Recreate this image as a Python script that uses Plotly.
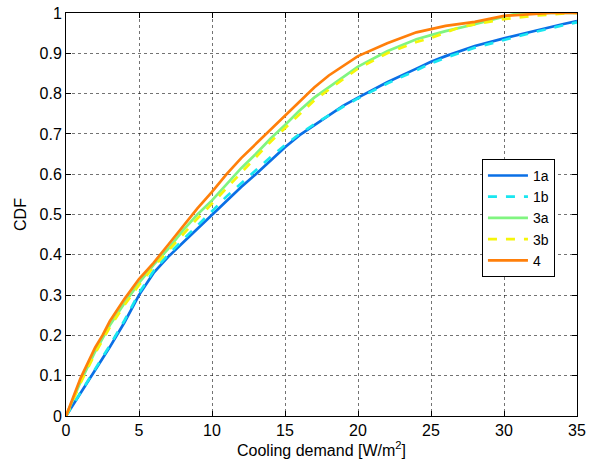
import plotly.graph_objects as go

# Cooling demand [W/m2] grid points and CDF values per case
x_1a = [0, 1, 2, 3, 4, 5, 6, 7, 8, 9, 10, 11, 12, 13, 14, 15, 16, 17, 18, 19, 20, 22, 24, 25, 26, 28, 30, 32, 34, 35]
y_1a = [0, 0.056, 0.113, 0.171, 0.232, 0.30, 0.355, 0.395, 0.43, 0.465, 0.5, 0.535, 0.568, 0.6, 0.634, 0.667, 0.697, 0.722, 0.747, 0.77, 0.79, 0.828, 0.862, 0.879, 0.893, 0.918, 0.937, 0.955, 0.972, 0.98]

x_1b = [0, 1, 2, 3, 4, 5, 6, 7, 8, 9, 10, 11, 12, 13, 14, 15, 16, 17, 18, 19, 20, 22, 24, 25, 26, 28, 30, 32, 34, 35]
y_1b = [0, 0.058, 0.116, 0.175, 0.237, 0.305, 0.36, 0.40, 0.437, 0.472, 0.508, 0.545, 0.578, 0.61, 0.642, 0.672, 0.7, 0.724, 0.747, 0.768, 0.788, 0.825, 0.858, 0.875, 0.889, 0.914, 0.933, 0.952, 0.969, 0.977]

x_3a = [0, 1, 2, 3, 4, 5, 6, 7, 8, 9, 10, 11, 12, 13, 14, 15, 16, 17, 18, 19, 20, 22, 24, 25, 26, 28, 30, 31, 35]
y_3a = [0, 0.085, 0.16, 0.225, 0.28, 0.33, 0.375, 0.415, 0.46, 0.5, 0.535, 0.575, 0.615, 0.65, 0.688, 0.722, 0.758, 0.79, 0.815, 0.842, 0.867, 0.905, 0.935, 0.945, 0.955, 0.972, 0.99, 1.0, 1.0]

x_3b = [0, 1, 2, 3, 4, 5, 6, 7, 8, 9, 10, 11, 12, 13, 14, 15, 16, 17, 18, 19, 20, 22, 24, 25, 27, 30, 32, 34.5, 35]
y_3b = [0, 0.082, 0.156, 0.22, 0.275, 0.325, 0.37, 0.41, 0.452, 0.49, 0.527, 0.566, 0.605, 0.642, 0.68, 0.715, 0.75, 0.783, 0.81, 0.837, 0.862, 0.9, 0.928, 0.938, 0.965, 0.985, 0.993, 1.0, 1.0]

x_4 = [0, 1, 2, 2.5, 3, 4, 5, 6, 7, 8, 9, 10, 11, 12, 13, 14, 15, 16, 17, 18, 19, 20, 22, 24, 26, 28, 30, 32, 33.2, 35]
y_4 = [0, 0.094, 0.17, 0.2, 0.235, 0.29, 0.34, 0.38, 0.425, 0.47, 0.515, 0.556, 0.6, 0.64, 0.675, 0.71, 0.747, 0.78, 0.815, 0.845, 0.87, 0.893, 0.925, 0.952, 0.968, 0.978, 0.993, 0.998, 1.0, 1.0]

series = [
    ("1a", x_1a, y_1a, "#0a6fe6", "solid"),
    ("1b", x_1b, y_1b, "#19e6f0", "dash"),
    ("3a", x_3a, y_3a, "#80f580", "solid"),
    ("3b", x_3b, y_3b, "#f5f50a", "dash"),
    ("4", x_4, y_4, "#ff7f0a", "solid"),
]

x_ticks = [0, 5, 10, 15, 20, 25, 30, 35]
y_ticks = [0, 0.1, 0.2, 0.3, 0.4, 0.5, 0.6, 0.7, 0.8, 0.9, 1]
y_tick_labels = ["0", "0.1", "0.2", "0.3", "0.4", "0.5", "0.6", "0.7", "0.8", "0.9", "1"]

fig = go.Figure()
for name, xs, ys, color, dash in series:
    fig.add_trace(go.Scatter(x=xs, y=ys, mode="lines", name=name,
                             line=dict(color=color, width=2.7, dash=dash)))

font = dict(family="Liberation Sans, Arial, sans-serif", size=16, color="black")
axis_common = dict(showline=True, linecolor="black", linewidth=1, mirror="ticks",
                   ticks="inside", ticklen=5, tickcolor="black",
                   showgrid=True, gridcolor="rgba(0,0,0,0.55)", griddash="dot", gridwidth=1,
                   zeroline=False, tickfont=font, automargin=False)

fig.update_layout(
    width=592, height=468,
    margin=dict(l=66, r=15, t=13, b=52, autoexpand=False),
    paper_bgcolor="white", plot_bgcolor="white",
    font=font,
    showlegend=True,
    legend=dict(x=0.814, y=0.638, xanchor="left", yanchor="top",
                bordercolor="black", borderwidth=1, bgcolor="white",
                font=dict(family="Liberation Sans, Arial, sans-serif", size=14, color="black"),
                tracegroupgap=0, itemwidth=40),
)
fig.update_xaxes(range=[0, 35], tickvals=x_ticks, ticktext=[str(v) for v in x_ticks],
                 title=dict(text="Cooling demand [W/m<sup>2</sup>]", standoff=4, font=font),
                 **axis_common)
fig.update_yaxes(range=[0, 1], tickvals=y_ticks, ticktext=y_tick_labels,
                 title=dict(text="CDF", standoff=8, font=font),
                 **axis_common)

fig.write_html("out.html", config={"displayModeBar": False},
               post_script="document.body.style.margin='0px';")
